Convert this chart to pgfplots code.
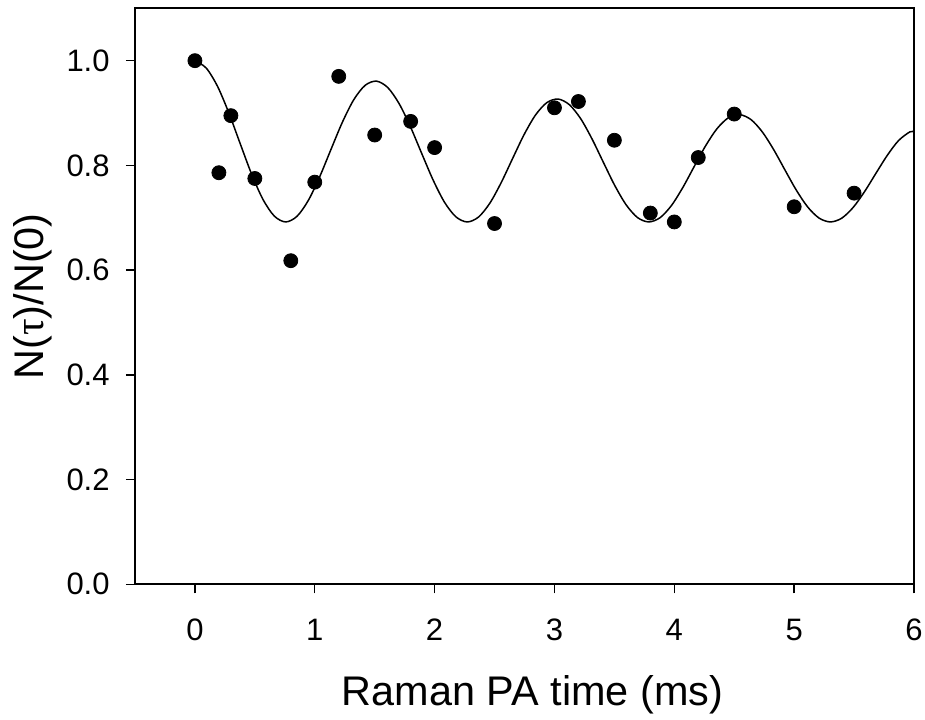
\documentclass[border=0pt]{standalone}
\usepackage{fontspec}
\setmainfont{Liberation Sans}
\newfontfamily\greek{Liberation Serif}
\usepackage{pgfplots}
\pgfplotsset{compat=1.18}

\begin{document}
\begin{tikzpicture}
\useasboundingbox (-67.5pt,-67.35pt) rectangle (395pt,292.15pt);
\begin{axis}[
    scale only axis,
    width=389.5pt, height=288pt,
    xmin=-0.5, xmax=6, ymin=0, ymax=1.1,
    xtick={0,1,2,3,4,5,6},
    ytick={0,0.2,0.4,0.6,0.8,1.0},
    yticklabel style={/pgf/number format/fixed, /pgf/number format/fixed zerofill,
        /pgf/number format/precision=1, inner sep=0pt, xshift=-8pt},
    xticklabel style={inner sep=0pt, yshift=-12.5pt},
    /pgf/number format/assume math mode=true,
    tick label style={font=\fontsize{15.5}{18}\selectfont},
    label style={font=\fontsize{20.7}{24}\selectfont},
    xtick pos=bottom, ytick pos=left,
    tick align=outside,
    major tick length=4.5pt,
    major tick style={line width=0.7pt, black},
    axis line style={line width=0.9pt},
    xlabel={Raman PA time (ms)},
    ylabel={N({\greek τ})/N(0)},
    xlabel style={at={(axis description cs:0.5103,-0.158)}, anchor=north, inner sep=0pt},
    ylabel style={at={(axis description cs:-0.1053,0.5)}, anchor=south, inner sep=0pt},
]
% fitted curve
\addplot[black, line width=0.75pt, smooth, no marks] coordinates {
(0.0000,1.0000) (0.0947,0.9858) (0.1894,0.9506) (0.2841,0.8996)
(0.3788,0.8409) (0.4734,0.7831) (0.5681,0.7349) (0.6628,0.7031)
(0.7575,0.6920) (0.8522,0.7029) (0.9469,0.7334) (1.0416,0.7786)
(1.1363,0.8311) (1.2309,0.8827) (1.3256,0.9255) (1.4203,0.9529)
(1.5150,0.9609) (1.6097,0.9485) (1.7044,0.9177) (1.7991,0.8733)
(1.8938,0.8220) (1.9884,0.7716) (2.0831,0.7294) (2.1778,0.7017)
(2.2725,0.6920) (2.3672,0.7015) (2.4619,0.7282) (2.5566,0.7676)
(2.6513,0.8134) (2.7459,0.8585) (2.8406,0.8958) (2.9353,0.9197)
(3.0300,0.9267) (3.1247,0.9159) (3.2194,0.8890) (3.3141,0.8502)
(3.4088,0.8055) (3.5034,0.7615) (3.5981,0.7247) (3.6928,0.7004)
(3.7875,0.6920) (3.8822,0.7003) (3.9769,0.7236) (4.0716,0.7580)
(4.1663,0.7980) (4.2609,0.8373) (4.3556,0.8699) (4.4503,0.8908)
(4.5450,0.8969) (4.6397,0.8875) (4.7344,0.8639) (4.8291,0.8301)
(4.9238,0.7910) (5.0184,0.7526) (5.1131,0.7205) (5.2078,0.6994)
(5.3025,0.6920) (5.3972,0.6992) (5.4919,0.7196) (5.5866,0.7496)
(5.6813,0.7845) (5.7759,0.8188) (5.8706,0.8473) (5.9653,0.8640)
(6.0000,0.8640)
};
% measured points
\addplot[only marks, mark=*, mark size=3.5pt, black] coordinates {
(0.0,1.000) (0.2,0.786) (0.3,0.895) (0.5,0.775) (0.8,0.618)
(1.0,0.768) (1.2,0.970) (1.5,0.858) (1.8,0.884) (2.0,0.834)
(2.5,0.689) (3.0,0.910) (3.2,0.922) (3.5,0.848) (3.8,0.709)
(4.0,0.692) (4.2,0.815) (4.5,0.898) (5.0,0.721) (5.5,0.747)
};
\end{axis}
\end{tikzpicture}
\end{document}
